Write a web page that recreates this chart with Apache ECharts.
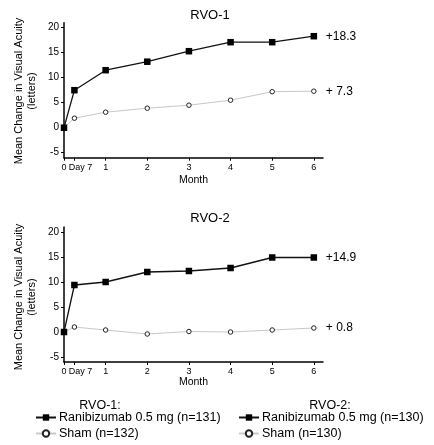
<!DOCTYPE html>
<html>
<head>
<meta charset="utf-8">
<script src="https://cdn.jsdelivr.net/npm/echarts@6/dist/echarts.min.js"></script>
<style>
html,body{margin:0;padding:0;background:#fff;}
#chart{width:434px;height:445px;}
</style>
</head>
<body>
<div id="chart"></div>
<script>
// ---- data ----
var timePoints = [0, 0.25, 1, 2, 3, 4, 5, 6];          // months (Day 7 ≈ 0.25)
var tickLabels = ['0', 'Day 7', '1', '2', '3', '4', '5', '6'];
var yTicks = [-5, 0, 5, 10, 15, 20];
var rvo1Ranibizumab = [0, 7.5, 11.5, 13.2, 15.3, 17.1, 17.1, 18.3];
var rvo1Sham        = [0, 1.9, 3.1, 3.9, 4.5, 5.5, 7.2, 7.3];
var rvo2Ranibizumab = [0, 9.4, 10.0, 12.0, 12.2, 12.8, 14.9, 14.9];
var rvo2Sham        = [0, 1.0, 0.4, -0.4, 0.1, 0.0, 0.4, 0.8];
var rvo1EndLabels = ['+18.3', '+ 7.3'];
var rvo2EndLabels = ['+14.9', '+ 0.8'];
var names = {
  r1: 'Ranibizumab 0.5 mg (n=131)',
  s1: 'Sham (n=132)',
  r2: 'Ranibizumab 0.5 mg (n=130)',
  s2: 'Sham (n=130)'
};
var panelTitles = ['RVO-1', 'RVO-2'];
var legendTitles = ['RVO-1:', 'RVO-2:'];
var yTitleLines = ['Mean Change in Visual Acuity', '(letters)'];
var xTitle = 'Month';

function pairs(vals) { return vals.map(function (v, i) { return [timePoints[i], v]; }); }

var FONT = 'Liberation Sans, Arial, sans-serif';

function xAxisCfg(gridIndex, gap) {
  return {
    type: 'value', gridIndex: gridIndex, min: 0, max: 6.22,
    name: xTitle, nameLocation: 'middle', nameGap: gap,
    nameTextStyle: { fontFamily: FONT, fontSize: 10.5, color: '#000' },
    splitLine: { show: false },
    axisLine: { show: true, onZero: false, lineStyle: { color: '#000', width: 1.5 } },
    axisTick: { show: true, length: 3, customValues: timePoints, lineStyle: { color: '#000', width: 1 } },
    axisLabel: {
      show: true, margin: 5, customValues: timePoints,
      fontFamily: FONT, fontSize: 9, color: '#000',
      formatter: function (v) {
        var i = timePoints.indexOf(v);
        var t = i >= 0 ? tickLabels[i] : '';
        return i === 1 ? '{d|' + t + '}' : t;
      },
      rich: { d: { fontFamily: FONT, fontSize: 9, color: '#000', padding: [0, 0, 0, 12] } }
    }
  };
}
function yAxisCfg(gridIndex) {
  return {
    type: 'value', gridIndex: gridIndex, min: -6, max: 21,
    splitLine: { show: false },
    axisLine: { show: true, onZero: false, lineStyle: { color: '#000', width: 1.5 } },
    axisTick: { show: true, length: 3, customValues: yTicks, lineStyle: { color: '#000', width: 1 } },
    axisLabel: { show: true, margin: 5, customValues: yTicks, fontFamily: FONT, fontSize: 10, color: '#000' }
  };
}
function raniSeries(name, data, gi, lbl) {
  return {
    type: 'line', name: name, xAxisIndex: gi, yAxisIndex: gi, data: pairs(data),
    symbol: 'rect', symbolSize: 6.5, showAllSymbol: true,
    lineStyle: { color: '#111', width: 1.3 },
    itemStyle: { color: '#000', borderWidth: 0 },
    z: 3,
    endLabel: { show: true, formatter: lbl, distance: 12, fontFamily: FONT, fontSize: 12, color: '#000' },
    emphasis: { disabled: true }, animation: false
  };
}
function shamSeries(name, data, gi, lbl) {
  return {
    type: 'line', name: name, xAxisIndex: gi, yAxisIndex: gi, data: pairs(data),
    symbol: 'circle', symbolSize: 4.5, showAllSymbol: true,
    lineStyle: { color: '#c8c8c8', width: 1 },
    itemStyle: { color: '#fff', borderColor: '#222', borderWidth: 1 },
    z: 2,
    endLabel: { show: true, formatter: lbl, distance: 12, fontFamily: FONT, fontSize: 12, color: '#000' },
    emphasis: { disabled: true }, animation: false
  };
}
function yTitle(cy) {
  return [
    { type: 'text', x: 19, y: cy, rotation: Math.PI / 2, silent: true,
      style: { text: yTitleLines[0], font: '11px ' + FONT, fill: '#000', align: 'center', verticalAlign: 'middle' } },
    { type: 'text', x: 32, y: cy, rotation: Math.PI / 2, silent: true,
      style: { text: yTitleLines[1], font: '11px ' + FONT, fill: '#000', align: 'center', verticalAlign: 'middle' } }
  ];
}

var chart = echarts.init(document.getElementById('chart'), null, { renderer: 'canvas' });
chart.setOption({
  backgroundColor: '#fff',
  animation: false,
  title: [
    { text: panelTitles[0], left: 210, top: 9, textAlign: 'center', padding: 0, textStyle: { fontFamily: FONT, fontSize: 13, fontWeight: 'normal', color: '#000' } },
    { text: panelTitles[1], left: 210, top: 212, textAlign: 'center', padding: 0, textStyle: { fontFamily: FONT, fontSize: 13, fontWeight: 'normal', color: '#000' } },
    { text: legendTitles[0], left: 100, top: 399, textAlign: 'center', padding: 0, textStyle: { fontFamily: FONT, fontSize: 12.5, fontWeight: 'normal', color: '#000' } },
    { text: legendTitles[1], left: 330, top: 399, textAlign: 'center', padding: 0, textStyle: { fontFamily: FONT, fontSize: 12.5, fontWeight: 'normal', color: '#000' } }
  ],
  legend: [
    { data: [names.r1, names.s1], orient: 'vertical', left: 35, top: 411, padding: 0, itemWidth: 20, itemHeight: 8, itemGap: 3,
      textStyle: { fontFamily: FONT, fontSize: 12.5, color: '#000', padding: [0, 0, 0, -2] }, selectedMode: false },
    { data: [names.r2, names.s2], orient: 'vertical', left: 238, top: 411, padding: 0, itemWidth: 20, itemHeight: 8, itemGap: 3,
      textStyle: { fontFamily: FONT, fontSize: 12.5, color: '#000', padding: [0, 0, 0, -2] }, selectedMode: false }
  ],
  grid: [
    { left: 64, top: 22.7, width: 259, height: 135 },
    { left: 64, top: 227, width: 259, height: 135 }
  ],
  xAxis: [xAxisCfg(0, 17), xAxisCfg(1, 14)],
  yAxis: [yAxisCfg(0), yAxisCfg(1)],
  graphic: yTitle(91).concat(yTitle(297)),
  series: [
    shamSeries(names.s1, rvo1Sham, 0, rvo1EndLabels[1]),
    raniSeries(names.r1, rvo1Ranibizumab, 0, rvo1EndLabels[0]),
    shamSeries(names.s2, rvo2Sham, 1, rvo2EndLabels[1]),
    raniSeries(names.r2, rvo2Ranibizumab, 1, rvo2EndLabels[0])
  ]
});
</script>
</body>
</html>
